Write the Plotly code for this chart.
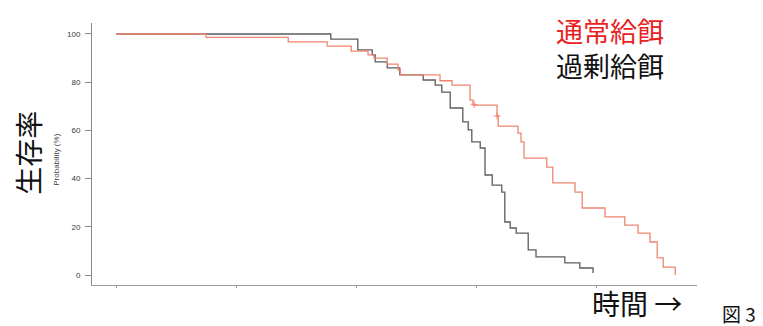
import plotly.graph_objects as go

# Kaplan-Meier style step data (time units, survival %)
normal_time = [0, 15.0, 28.7, 35.2, 39.2, 42.0, 43.0, 45.2, 47.0, 47.4, 54.0, 56.0, 59.0, 59.5,
               63.5, 63.7, 67.0, 67.5, 68.0, 71.8, 72.8, 76.5, 77.7, 81.5, 84.8, 87.0, 89.0,
               90.2, 91.2, 93.2]
normal_surv = [100, 98.6, 96.7, 95.0, 92.9, 91.3, 90.0, 87.5, 85.1, 83.0, 80.6, 78.8, 72.6, 70.5,
               66.0, 61.8, 58.9, 55.2, 48.5, 44.8, 38.2, 34.4, 27.8, 24.1, 20.7, 17.4, 13.7,
               7.1, 3.3, 0.0]
normal_censor_time = [59.7, 63.5]
normal_censor_surv = [70.8, 66.0]

over_time = [0, 35.8, 40.3, 42.7, 43.2, 45.2, 47.3, 51.2, 53.2, 54.3, 55.7, 57.8, 58.7, 59.3,
             60.7, 61.5, 62.7, 64.3, 64.8, 65.7, 66.7, 68.7, 70.0, 74.8, 77.3, 79.5]
over_surv = [100, 97.9, 93.4, 91.3, 88.4, 85.9, 83.0, 80.9, 78.8, 75.9, 69.3, 63.5, 60.2, 55.2,
             52.7, 41.5, 37.3, 34.4, 22.0, 19.5, 17.4, 10.4, 7.5, 5.0, 2.9, 0.8]

y_ticks = [0, 20, 40, 60, 80, 100]
x_ticks = [0, 20, 40, 60, 80]

label_normal = "通常給餌"
label_over = "過剰給餌"

RED = "#f0856f"
GRAY = "#5c5c5c"

fig = go.Figure()
fig.add_trace(go.Scatter(x=over_time, y=over_surv, mode="lines", line_shape="hv",
                         line=dict(color=GRAY, width=1.3), name=label_over, showlegend=False))
fig.add_trace(go.Scatter(x=normal_time, y=normal_surv, mode="lines", line_shape="hv",
                         line=dict(color=RED, width=1.3), name=label_normal, showlegend=False))
fig.add_trace(go.Scatter(x=normal_censor_time, y=normal_censor_surv, mode="markers",
                         marker=dict(symbol="cross-thin", size=5, line=dict(color=RED, width=1)),
                         showlegend=False))

# page body has an 8px default margin, so the figure is 8px smaller and margins shifted
fig.update_layout(
    width=755, height=318,
    margin=dict(l=84, r=66, t=15, b=41),
    plot_bgcolor="white", paper_bgcolor="white",
    font=dict(family="Liberation Sans, Arial, sans-serif"),
    xaxis=dict(range=[-4, 96.83], showgrid=False, zeroline=False, showline=True,
               linecolor="#9a9a9a", linewidth=1, tickmode="array", tickvals=x_ticks,
               ticks="outside", ticklen=2, tickcolor="#9a9a9a", showticklabels=False),
    yaxis=dict(range=[-4.15, 104.56], showgrid=False, zeroline=False, showline=True,
               linecolor="#8a8a8a", linewidth=1, tickmode="array", tickvals=y_ticks,
               ticks="outside", ticklen=6, tickcolor="#8a8a8a",
               tickfont=dict(size=8, color="#3a3a3a", family="Liberation Sans, Arial"),
               ticklabelstandoff=3),
)

cjk = "Noto Sans CJK JP"
ann = [
    dict(text="生存率", x=-0.106, y=0.504, textangle=-90, font=dict(size=28, color="#111", family=cjk)),
    dict(text="Probability (%)", x=-0.06, y=0.477, textangle=-90,
         font=dict(size=8, color="#444", family="Liberation Sans, Arial")),
    dict(text=f"<span style='color:#e8231f'>{label_normal}</span><br>{label_over}",
         x=0.856, y=0.905, font=dict(size=27, color="#111", family=cjk)),
    dict(text="時間 →", x=0.9, y=-0.069, font=dict(size=28, color="#111", family=cjk)),
    dict(text="図 3", x=1.069, y=-0.11, font=dict(size=19, color="#111", family=cjk)),
]
for a in ann:
    fig.add_annotation(xref="paper", yref="paper", showarrow=False, xanchor="center",
                       yanchor="middle", **a)

fig.write_html("out.html")
